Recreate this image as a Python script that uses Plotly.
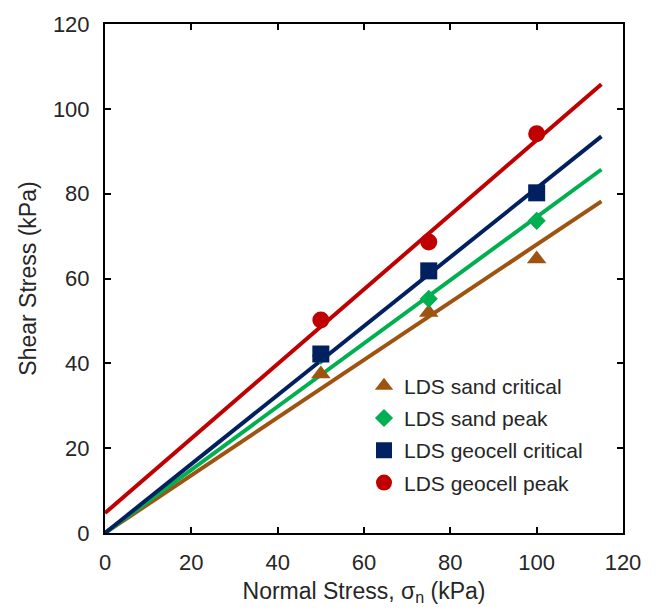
import plotly.graph_objects as go

# ---- data ----
normal_stress = [50, 75, 100]
sand_critical = [37.5, 52.0, 64.6]
sand_peak = [41.8, 55.2, 73.6]
geocell_critical = [42.2, 61.8, 80.2]
geocell_peak = [50.2, 68.6, 94.1]

# trend-line end points (x = 0 and x = 115)
trend_x = [0, 115]
sand_critical_fit = [0, 78.2]
sand_peak_fit = [0, 85.7]
geocell_critical_fit = [0, 93.5]
geocell_peak_fit = [4.7, 105.8]

names = ["LDS sand critical", "LDS sand peak", "LDS geocell critical", "LDS geocell peak"]
colors = ["#9E5410", "#00B050", "#002060", "#C00000"]
symbols = ["triangle-up", "diamond", "square", "circle"]
msizes = [17, 14, 17, 17]
series = [sand_critical, sand_peak, geocell_critical, geocell_peak]
fits = [sand_critical_fit, sand_peak_fit, geocell_critical_fit, geocell_peak_fit]

fig = go.Figure()
for i in range(4):
    fig.add_trace(go.Scatter(x=trend_x, y=fits[i], mode="lines",
                             line=dict(color=colors[i], width=4),
                             showlegend=False, hoverinfo="skip"))
for i in range(4):
    fig.add_trace(go.Scatter(x=normal_stress, y=series[i], mode="markers", name=names[i],
                             legendgroup=names[i],
                             marker=dict(color=colors[i], symbol=symbols[i], size=msizes[i],
                                         line=dict(width=0))))

font_family = "Liberation Sans, Arial, sans-serif"
txt = "#262626"
axis_common = dict(showgrid=False, zeroline=False, showline=True, linecolor="black", linewidth=2,
                   mirror="ticks", ticks="inside", ticklen=6, tickwidth=2, tickcolor="black",
                   tickfont=dict(family=font_family, size=22, color=txt))

fig.update_layout(
    width=662, height=613,
    margin=dict(l=105, r=39, t=19, b=80),
    paper_bgcolor="white", plot_bgcolor="white",
    font=dict(family=font_family, color=txt),
    xaxis=dict(range=[0, 120], dtick=20, ticklabelstandoff=9, **axis_common,
               title=dict(text="Normal Stress, σ<sub>n</sub> (kPa)", standoff=8,
                          font=dict(family=font_family, size=23, color=txt))),
    yaxis=dict(range=[0, 120], dtick=20, ticklabelstandoff=9, **axis_common,
               title=dict(text="Shear Stress (kPa)", standoff=10,
                          font=dict(family=font_family, size=23, color=txt))),
    legend=dict(x=0.5, y=0.329, xanchor="left", yanchor="top", bgcolor="rgba(0,0,0,0)",
                font=dict(family=font_family, size=21, color=txt), tracegroupgap=2,
                itemwidth=30),
    showlegend=True,
)
fig.write_html("out.html")
